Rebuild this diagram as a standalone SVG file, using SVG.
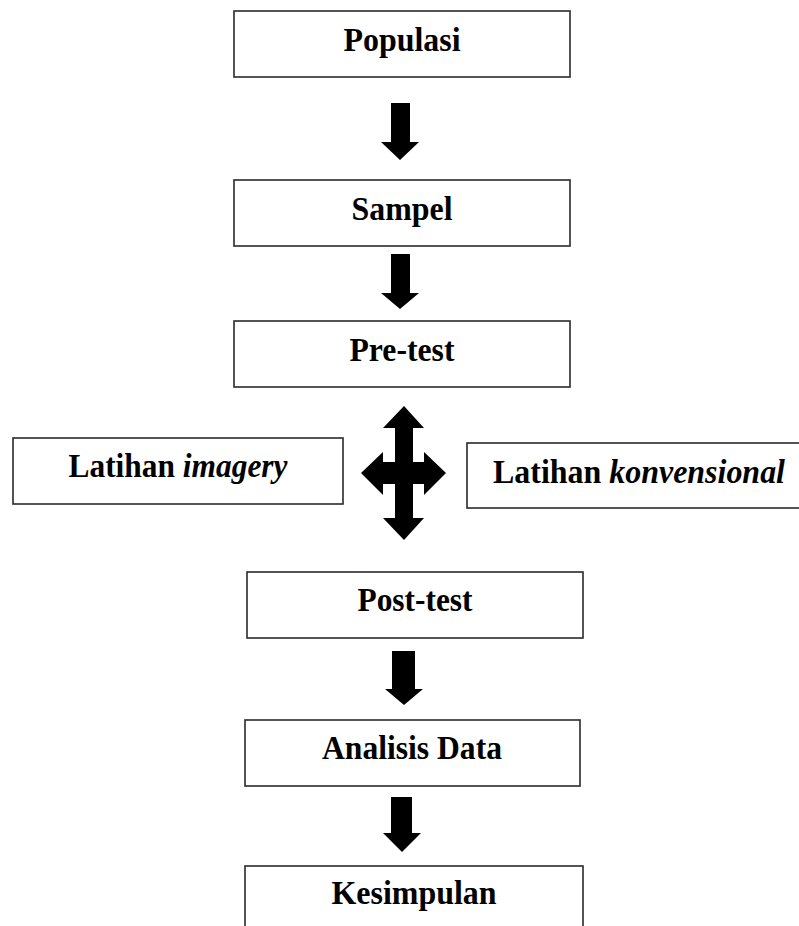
<svg xmlns="http://www.w3.org/2000/svg" width="799" height="926" viewBox="0 0 799 926">
<style>
.box{fill:#fff;stroke:#2a2a2a;stroke-width:1.6}
.t{font-family:"Liberation Serif","Times New Roman",serif;font-weight:bold;font-size:34px;fill:#000;text-anchor:middle}
.i{font-style:italic}
.arr{fill:#000}
</style>
<rect width="799" height="926" fill="#fff"/>
<g id="connectors">
<polygon class="arr" points="391,103 410,103 410,142 419,142 400,160 381,142 391,142"/>
<polygon class="arr" points="391,254 410,254 410,293 419,293 400,309 381,293 391,293"/>
<polygon class="arr" points="404,406 424,428 413,428 413,462 424,462 424,452 446,473 424,495 424,484 413,484 413,518 424,518 404,540 383,518 395,518 395,484 383,484 383,495 361,473 383,452 383,462 395,462 395,428 383,428"/>
<polygon class="arr" points="392,651 415,651 415,689 423,689 404,705 385,689 392,689"/>
<polygon class="arr" points="391,797 412,797 412,833 421,833 402,852 383,833 391,833"/>
</g>
<g id="populasi"><rect class="box" x="234" y="11" width="336" height="66"/><text class="t" x="402" y="51" textLength="117" lengthAdjust="spacingAndGlyphs">Populasi</text></g>
<g id="sampel"><rect class="box" x="234" y="180" width="336" height="66"/><text class="t" x="402" y="220" textLength="101" lengthAdjust="spacingAndGlyphs">Sampel</text></g>
<g id="pretest"><rect class="box" x="234" y="321" width="336" height="66"/><text class="t" x="402" y="361" textLength="105" lengthAdjust="spacingAndGlyphs">Pre-test</text></g>
<g id="imagery"><rect class="box" x="13" y="438" width="330" height="66"/><text class="t" x="178" y="477" textLength="219" lengthAdjust="spacingAndGlyphs">Latihan <tspan class="i">imagery</tspan></text></g>
<g id="konvensional"><rect class="box" x="467" y="443" width="345" height="65"/><text class="t" x="639" y="483" textLength="292" lengthAdjust="spacingAndGlyphs">Latihan <tspan class="i">konvensional</tspan></text></g>
<g id="posttest"><rect class="box" x="247" y="572" width="336" height="66"/><text class="t" x="415" y="611" textLength="115" lengthAdjust="spacingAndGlyphs">Post-test</text></g>
<g id="analisis"><rect class="box" x="245" y="720" width="335" height="66"/><text class="t" x="412" y="759" textLength="180" lengthAdjust="spacingAndGlyphs">Analisis Data</text></g>
<g id="kesimpulan"><rect class="box" x="245" y="866" width="338" height="80"/><text class="t" x="414" y="904" textLength="165" lengthAdjust="spacingAndGlyphs">Kesimpulan</text></g>
</svg>
